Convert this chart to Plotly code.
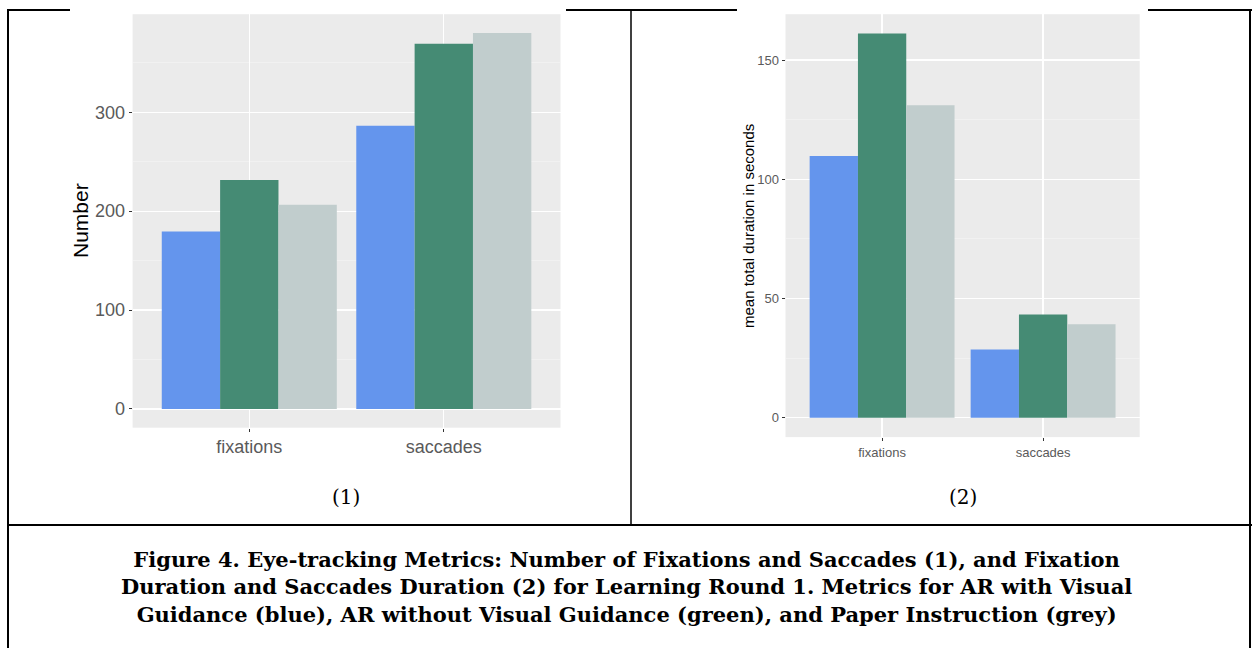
import plotly.graph_objects as go

W, H = 1252, 648

categories = ["fixations", "saccades"]
groups = ["AR with Visual Guidance", "AR without Visual Guidance", "Paper Instruction"]
colors = ["#6495ED", "#458B74", "#C1CDCD"]

number_values = {
    "AR with Visual Guidance": [179.5, 286.3],
    "AR without Visual Guidance": [231.6, 369.2],
    "Paper Instruction": [206.5, 380.2],
}
duration_values = {
    "AR with Visual Guidance": [109.8, 28.7],
    "AR without Visual Guidance": [161.1, 43.3],
    "Paper Instruction": [131.0, 39.2],
}

caption = ("<b>Figure 4. Eye-tracking Metrics: Number of Fixations and Saccades (1), and Fixation<br>"
           "Duration and Saccades Duration (2) for Learning Round 1. Metrics for AR with Visual<br>"
           "Guidance (blue), AR without Visual Guidance (green), and Paper Instruction (grey)</b>")


def fx(x):
    return x / W


def fy(y):
    return 1 - y / H


fig = go.Figure()
for g, c in zip(groups, colors):
    fig.add_trace(go.Bar(x=categories, y=number_values[g], name=g, marker_color=c,
                         marker_line_width=0, xaxis="x", yaxis="y", showlegend=False))
for g, c in zip(groups, colors):
    fig.add_trace(go.Bar(x=categories, y=duration_values[g], name=g, marker_color=c,
                         marker_line_width=0, xaxis="x2", yaxis="y2", showlegend=False))

tick_col = "#5A5A5A"
sans = "Liberation Sans, Arial, sans-serif"


def yax(rng, dtick, size, dom, anchor):
    return dict(domain=dom, anchor=anchor, range=rng, dtick=dtick, tick0=0,
                showgrid=True, gridcolor="white", gridwidth=1.2, zeroline=False,
                minor=dict(showgrid=True, gridcolor="#F5F5F5", gridwidth=0.6, dtick=dtick / 2, tick0=0),
                ticks="outside", ticklen=3, tickcolor="#333333", tickwidth=1,
                tickfont=dict(family=sans, size=size, color=tick_col), showline=False, fixedrange=True)


def xax(dom, anchor, size):
    return dict(domain=dom, anchor=anchor, range=[-0.6, 1.6], type="category",
                showgrid=True, gridcolor="white", gridwidth=1.2, zeroline=False,
                ticks="outside", ticklen=3, tickcolor="#333333", tickwidth=1,
                tickfont=dict(family=sans, size=size, color=tick_col), showline=False, fixedrange=True)


fig.update_layout(
    width=W, height=H, margin=dict(l=0, r=0, t=0, b=0),
    paper_bgcolor="white", plot_bgcolor="#EBEBEB",
    barmode="group", bargap=0.1, bargroupgap=0, hovermode=False,
    xaxis=xax([fx(132.6), fx(560.5)], "y", 18),
    yaxis=yax([-19.01, 399.2], 100, 18, [fy(427.7), fy(14.2)], "x"),
    xaxis2=xax([fx(785.5), fx(1139.7)], "y2", 13),
    yaxis2=yax([-8.06, 169.2], 50, 13, [fy(437.1), fy(14.2)], "x2"),
)

annotations = [
    dict(text="Number", x=fx(80), y=fy(221), textangle=-90,
         font=dict(family=sans, size=21, color="black")),
    dict(text="mean total duration in seconds", x=fx(748), y=fy(226), textangle=-90,
         font=dict(family=sans, size=15, color="black")),
    dict(text="(1)", x=fx(345.5), y=fy(497),
         font=dict(family="DejaVu Serif, serif", size=20, color="black")),
    dict(text="(2)", x=fx(963), y=fy(497),
         font=dict(family="DejaVu Serif, serif", size=20, color="black")),
    dict(text=caption, x=fx(626), y=fy(587), align="center",
         font=dict(family="DejaVu Serif, serif", size=21, color="black")),
]
for a in annotations:
    a.update(xref="paper", yref="paper", showarrow=False, xanchor="center", yanchor="middle")
fig.update_layout(annotations=annotations)


def line(x0, y0, x1, y1, w=2):
    return dict(type="line", xref="paper", yref="paper", x0=fx(x0), y0=fy(y0), x1=fx(x1), y1=fy(y1),
                line=dict(color="black", width=w), layer="above")


shapes = [
    line(7, 10, 70, 10),
    line(566, 10, 737, 10),
    line(1148, 10, 1252, 10),
    line(8, 9, 8, 648),
    line(1250, 9, 1250, 648),
    line(631, 9, 631, 525, 1.5),
    line(7, 525, 1252, 525),
]
fig.update_layout(shapes=shapes)

fig.write_html("out.html", config={"displayModeBar": False, "staticPlot": True},
               post_script="document.body.style.margin='0';document.body.style.overflow='hidden';")
